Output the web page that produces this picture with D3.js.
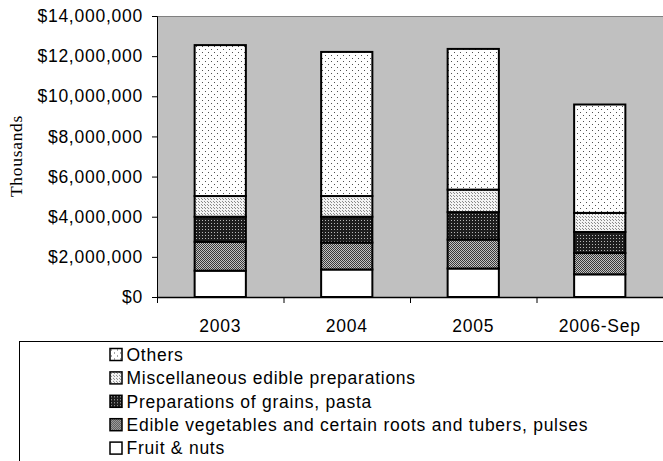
<!DOCTYPE html>
<html><head><meta charset="utf-8">
<script src="https://cdn.jsdelivr.net/npm/d3@7"></script>
<style>body{margin:0;background:#fff;overflow:hidden}</style></head>
<body><svg id="c" width="663" height="461"></svg>
<script>
const categories = ["2003", "2004", "2005", "2006-Sep"];
const seriesNames = ["Fruit & nuts", "Edible vegetables and certain roots and tubers, pulses", "Preparations of grains, pasta", "Miscellaneous edible preparations", "Others"];
const fruitNuts = [1310000, 1370000, 1420000, 1130000];
const vegetables = [1440000, 1340000, 1440000, 1060000];
const grainsPasta = [1250000, 1290000, 1370000, 1050000];
const miscPreparations = [1030000, 1030000, 1120000, 950000];
const others = [7520000, 7180000, 7010000, 5400000];
const yTicks = [0, 2000000, 4000000, 6000000, 8000000, 10000000, 12000000, 14000000];
const legendOrder = ["Others", "Miscellaneous edible preparations", "Preparations of grains, pasta", "Edible vegetables and certain roots and tubers, pulses", "Fruit & nuts"];

const seriesValues = [fruitNuts, vegetables, grainsPasta, miscPreparations, others];
const patIds = ["pFruit", "pVeg", "pGrain", "pMisc", "pOthers"];

const svg = d3.select("#c");
const defs = svg.append("defs");
function pat(id, w, h, bg, dots, dotColor) {
  const p = defs.append("pattern").attr("id", id).attr("patternUnits", "userSpaceOnUse")
    .attr("width", w).attr("height", h);
  p.append("rect").attr("width", w).attr("height", h).attr("fill", bg);
  dots.forEach(d => p.append("rect").attr("x", d[0]).attr("y", d[1]).attr("width", 1).attr("height", 1).attr("fill", dotColor));
}
pat("pFruit", 4, 4, "#ffffff", [], "#000");
pat("pVeg", 2, 2, "#c4c4c4", [[0, 0], [1, 1]], "#3a3a3a");
pat("pGrain", 3, 3, "#1e1e1e", [[1, 1]], "#b8b8b8");
pat("pMisc", 3, 3, "#f4f4f4", [[1, 1], [0, 0]], "#8a8a8a");
pat("pOthers", 6, 6, "#ffffff", [[1, 1], [4, 4]], "#505050");

const pL = 157, pR = 663, pT = 16, pB = 297;
const x = d3.scaleBand().domain(categories).range([pL, pR]).padding(0);
const y = d3.scaleLinear().domain([0, 14000000]).range([pB, pT]);

svg.append("rect").attr("x", pL).attr("y", pT).attr("width", pR - pL).attr("height", pB - pT).attr("fill", "#c0c0c0");
svg.append("line").attr("x1", pL).attr("x2", pR).attr("y1", pT + 0.5).attr("y2", pT + 0.5).attr("stroke", "#808080").attr("stroke-width", 1);

const data = categories.map((c, i) => {
  const o = { cat: c };
  seriesNames.forEach((s, k) => o[s] = seriesValues[k][i]);
  return o;
});
const stack = d3.stack().keys(seriesNames)(data);
const bw = x.bandwidth() * 0.405;

stack.forEach((layer, k) => {
  svg.append("g").selectAll("rect").data(layer).join("rect")
    .attr("x", d => x(d.data.cat) + (x.bandwidth() - bw) / 2)
    .attr("y", d => y(d[1]))
    .attr("width", bw)
    .attr("height", d => y(d[0]) - y(d[1]))
    .attr("fill", `url(#${patIds[k]})`)
    .attr("stroke", "#000").attr("stroke-width", 2);
});

const font = "'Liberation Sans', Arial, sans-serif";
const fs = 17.5, ls = 0.75;
const yAxis = svg.append("g").attr("transform", `translate(${pL},0)`)
  .call(d3.axisLeft(y).tickValues(yTicks).tickSize(5).tickPadding(9).tickFormat(d => "$" + d3.format(",")(d)));
yAxis.select(".domain").attr("stroke", "#000");
yAxis.selectAll("text").attr("font-family", font).attr("font-size", fs).attr("letter-spacing", ls).attr("fill", "#000");

const xAxis = svg.append("g").attr("transform", `translate(0,${pB})`)
  .call(d3.axisBottom(x).tickSize(0).tickPadding(23));
xAxis.select(".domain").attr("stroke", "#000").attr("stroke-width", 1.5);
xAxis.selectAll("text").attr("font-family", font).attr("font-size", fs).attr("letter-spacing", ls).attr("fill", "#000");
const bounds = categories.map(c => x(c)).concat([pR]);
svg.append("g").selectAll("line").data(bounds).join("line")
  .attr("x1", d => d + 0.5).attr("x2", d => d + 0.5).attr("y1", pB).attr("y2", pB + 6)
  .attr("stroke", "#000");

svg.append("text").attr("transform", "translate(22,156) rotate(-90)")
  .attr("text-anchor", "middle").attr("font-family", "'Liberation Serif', 'Times New Roman', serif")
  .attr("font-size", 17.5).attr("letter-spacing", 0.7).text("Thousands");

svg.append("rect").attr("x", 19.5).attr("y", 341.5).attr("width", 700).attr("height", 200)
  .attr("fill", "none").attr("stroke", "#000").attr("stroke-width", 1);
const lg = svg.append("g").selectAll("g").data(legendOrder).join("g")
  .attr("transform", (d, i) => `translate(110,${354.5 + i * 23.4})`);
lg.append("rect").attr("x", 0).attr("y", -6).attr("width", 12).attr("height", 12)
  .attr("fill", d => `url(#${patIds[seriesNames.indexOf(d)]})`).attr("stroke", "#000").attr("stroke-width", 1.5);
lg.append("text").attr("x", 16.5).attr("dy", "0.36em").attr("font-family", font).attr("font-size", fs)
  .attr("letter-spacing", ls).text(d => d);
</script></body></html>
